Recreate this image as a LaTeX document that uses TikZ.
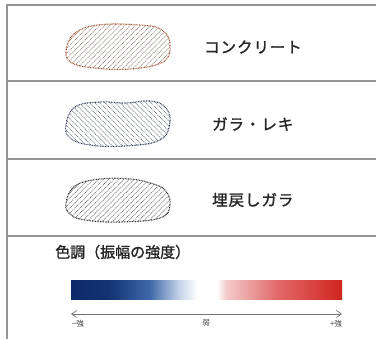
\documentclass[tikz,border=0pt]{standalone}
\usepackage{fontspec}
\newfontfamily\jp{Noto Sans CJK JP}[FakeBold=1.5]
\newfontfamily\jpw{Noto Sans CJK JP}[FakeBold=1.5,LetterSpace=6]
\newfontfamily\jps{Noto Sans CJK JP}
\usetikzlibrary{patterns.meta,arrows.meta}
\definecolor{framec}{HTML}{959595}
\definecolor{conline}{HTML}{A8502E}
\definecolor{conhatch}{HTML}{8A7060}
\definecolor{gralline}{HTML}{34425E}
\definecolor{gralhatch}{HTML}{5E6478}
\definecolor{fillline}{HTML}{303030}
\definecolor{fillhatch}{HTML}{5E5E5E}
\definecolor{bnavy}{HTML}{0C2A68}
\definecolor{bmid}{HTML}{3E68A8}
\definecolor{blight}{HTML}{C6D4EA}
\definecolor{rpink}{HTML}{F4CCCC}
\definecolor{rmid}{HTML}{E26A6A}
\definecolor{rred}{HTML}{D0241E}
\pgfdeclarehorizontalshading{ampshade}{100bp}{color(0bp)=(bnavy); color(25bp)=(bnavy); color(32bp)=(bnavy!85!bmid); color(39.5bp)=(bmid); color(45bp)=(blight); color(48.3bp)=(white); color(52bp)=(white); color(53.5bp)=(rpink); color(63bp)=(rmid); color(75bp)=(rred); color(100bp)=(rred)}
\tikzset{
  framel/.style={draw=framec, line width=1.4pt},
  blob/.style={line width=1.1pt, dash pattern=on 0.8pt off 0.8pt},
  lbl/.style={font=\jpw\fontsize{15.5}{18}\selectfont, anchor=west, inner sep=0pt, text=black!85},
  ttl/.style={font=\jp\fontsize{15}{18}\selectfont, anchor=west, inner sep=0pt, text=black!85},
  small/.style={font=\jps\fontsize{7.5}{9}\selectfont, inner sep=0pt, text=black!75},
}
\begin{document}
\begin{tikzpicture}[x=1pt,y=-1pt]
\useasboundingbox (0,0) rectangle (376,339);
% frame
\draw[framel] (376,5) -- (7,5) -- (7,339);
\draw[framel] (7,81) -- (376,81);
\draw[framel] (7,159) -- (376,159);
\draw[framel] (7,236) -- (376,236);
% concrete blob
\draw[blob, draw=conline, pattern={Lines[angle=45,distance=3.6pt,line width=0.6pt]}, pattern color=conhatch]
  plot[smooth cycle, tension=0.7] coordinates {(66,52) (74,34) (98,25) (140,25) (162,30) (170,45) (163,62) (130,69) (95,68) (72,63)};
\node[lbl] (t1) at (204,47) {コンクリート};
% gravel blob
\draw[blob, draw=gralline, pattern={Lines[angle=-45,distance=3.6pt,line width=0.6pt]}, pattern color=gralhatch]
  plot[smooth cycle, tension=0.7] coordinates {(66,125) (75,107) (100,102) (125,103) (150,101) (165,107) (170,122) (160,140) (125,146) (90,145) (70,138)};
\node[lbl] (t2) at (212,124) {ガラ・レキ};
% backfill blob
\draw[blob, draw=fillline, pattern={Lines[angle=45,distance=3.6pt,line width=0.6pt]}, pattern color=fillhatch]
  plot[smooth cycle, tension=0.7] coordinates {(66,203) (75,186) (100,179) (130,179) (150,183) (165,190) (170,205) (160,218) (120,222) (85,220) (70,214)};
\node[lbl] (t3) at (212,200) {埋戻しガラ};
% legend
\node[ttl] (title) at (55,252) {色調（振幅の強度）};
\shade[shading=ampshade] (71,281) rectangle (342,300);
\coordinate (al) at (71,314);
\coordinate (ar) at (342,314);
\draw[draw=black!55, line width=0.7pt, {Straight Barb[length=5pt,width=7pt]}-{Straight Barb[length=5pt,width=7pt]}] (al) -- (ar);
\node[small] (m1) at (78,324) {−強};
\node[small] (m2) at (206,323) {弱};
\node[small] (m3) at (336,324) {+強};
\end{tikzpicture}
\end{document}
